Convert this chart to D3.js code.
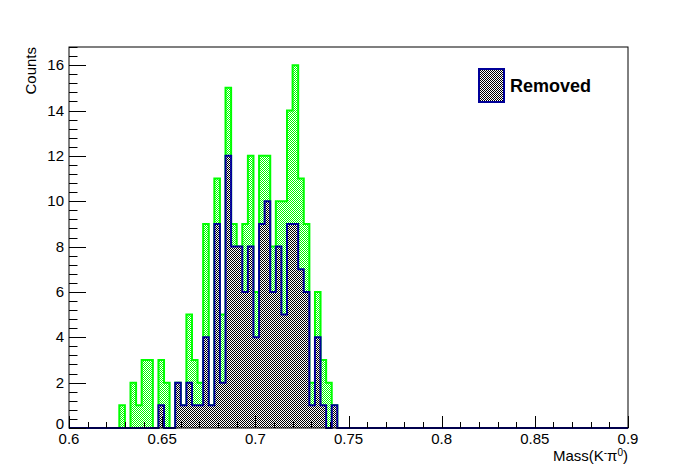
<!DOCTYPE html>
<html><head><meta charset="utf-8">
<script src="https://cdn.jsdelivr.net/npm/d3@7"></script>
<style>body{margin:0;background:#fff}svg{display:block}text{font-family:"Liberation Sans",Arial,sans-serif}</style>
</head><body>
<svg id="c" width="698" height="476"></svg>
<script>
const xMin = 0.6, xMax = 0.9, nBins = 100;
// bin contents (bin width 0.003), all entries
const allCounts = [
 0,0,0,0,0,0,0,0,0,1,
 0,2,1,3,3,0,3,2,0,2,
 1,5,3,2,9,1,11,5,15,9,
 8,9,12,6,12,12,8,10,10,14,
 16,11,9,2,6,3,2,1,0,0,
 0,0,0,0,0,0,0,0,0,0,
 0,0,0,0,0,0,0,0,0,0,
 0,0,0,0,0,0,0,0,0,0,
 0,0,0,0,0,0,0,0,0,0,
 0,0,0,0,0,0,0,0,0,0];
const removedCounts = [
 0,0,0,0,0,0,0,0,0,0,
 0,0,0,0,0,0,1,0,0,2,
 1,2,1,1,4,1,9,2,12,8,
 8,6,8,4,9,10,6,8,5,9,
 9,7,6,1,4,1,0,1,0,0,
 0,0,0,0,0,0,0,0,0,0,
 0,0,0,0,0,0,0,0,0,0,
 0,0,0,0,0,0,0,0,0,0,
 0,0,0,0,0,0,0,0,0,0,
 0,0,0,0,0,0,0,0,0,0];
const xTickLabels = ["0.6","0.65","0.7","0.75","0.8","0.85","0.9"];
const yTickLabels = ["0","2","4","6","8","10","12","14","16"];
const yMax = 16.8;
const legendLabel = "Removed";

const svg = d3.select("#c");
const L = 69, R = 628, T = 47, B = 428;
const x = d3.scaleLinear().domain([xMin, xMax]).range([L, R]);
const y = d3.scaleLinear().domain([0, yMax]).range([B, T]);
const bw = (xMax - xMin) / nBins;

// checker fills drawn pixel-exact with a canvas-generated image tile
function checkerURL(col) {
  const c = document.createElement("canvas"); c.width = 2; c.height = 2;
  const ctx = c.getContext("2d");
  ctx.fillStyle = "#fff"; ctx.fillRect(0, 0, 2, 2);
  ctx.fillStyle = col; ctx.fillRect(0, 0, 1, 1); ctx.fillRect(1, 1, 1, 1);
  return c.toDataURL();
}
const defs = svg.append("defs");
function checker(id, col) {
  const p = defs.append("pattern").attr("id", id).attr("patternUnits", "userSpaceOnUse")
    .attr("x", 0).attr("y", 0).attr("width", 2).attr("height", 2);
  p.append("image").attr("href", checkerURL(col)).attr("width", 2).attr("height", 2)
    .style("image-rendering", "pixelated");
}
checker("pg", "#00ff00");
checker("pk", "#000000");

function drawHist(counts, fillId, lineCol) {
  const g = svg.append("g");
  g.selectAll("rect").data(counts.map((v, i) => ({v, i})).filter(d => d.v > 0)).join("rect")
    .attr("x", d => Math.round(x(xMin + d.i * bw)))
    .attr("width", d => Math.round(x(xMin + (d.i + 1) * bw)) - Math.round(x(xMin + d.i * bw)))
    .attr("y", d => Math.round(y(d.v))).attr("height", d => Math.round(y(0)) - Math.round(y(d.v)))
    .attr("shape-rendering", "crispEdges")
    .attr("fill", `url(#${fillId})`);
  const pts = [[x(xMin), y(0)]];
  counts.forEach((v, i) => { pts.push([x(xMin + i * bw), y(v)]); pts.push([x(xMin + (i + 1) * bw), y(v)]); });
  pts.push([x(xMax), y(0)]);
  g.append("path").attr("d", d3.line()(pts)).attr("fill", "none").attr("stroke", lineCol).attr("stroke-width", 2);
}
drawHist(allCounts, "pg", "#00ff00");
drawHist(removedCounts, "pk", "#000099");

// frame
svg.append("rect").attr("x", L).attr("y", T).attr("width", R - L).attr("height", B - T)
  .attr("fill", "none").attr("stroke", "#000").attr("stroke-width", 1);

// x axis ticks
const ax = svg.append("g").attr("stroke", "#000").attr("stroke-width", 1);
const xMinor = d3.range(0, 31).map(i => xMin + i * 0.01);
xMinor.forEach((v, i) => {
  const len = (i % 5 === 0) ? 12 : 6;
  ax.append("line").attr("x1", Math.round(x(v)) + 0.5).attr("x2", Math.round(x(v)) + 0.5)
    .attr("y1", B).attr("y2", B - len);
});
xTickLabels.forEach(t => {
  svg.append("text").attr("x", x(+t)).attr("y", 444).attr("text-anchor", "middle")
    .attr("font-size", 15).text(t);
});
// y axis ticks
const yMinor = d3.range(0, 43).map(i => i * 0.4).filter(v => v <= yMax + 1e-9);
yMinor.forEach((v, i) => {
  const len = (i % 5 === 0) ? 17 : 8.5;
  ax.append("line").attr("x1", L).attr("x2", L + len)
    .attr("y1", Math.round(y(v)) + 0.5).attr("y2", Math.round(y(v)) + 0.5);
});
yTickLabels.forEach(t => {
  svg.append("text").attr("x", 64).attr("y", y(+t) + (+t === 0 ? 1 : 5)).attr("text-anchor", "end")
    .attr("font-size", 15).text(t);
});

// axis titles
svg.append("text").attr("transform", `translate(36,${T}) rotate(-90)`).attr("text-anchor", "end")
  .attr("font-size", 15).text("Counts");
const xt = svg.append("text").attr("x", R).attr("y", 461).attr("text-anchor", "end").attr("font-size", 15);
xt.append("tspan").text("Mass(K");
xt.append("tspan").attr("font-size", 10).attr("dy", -5).text("-");
xt.append("tspan").attr("dy", 5).text("\u03c0");
xt.append("tspan").attr("font-size", 10).attr("dy", -5).text("0");
xt.append("tspan").attr("dy", 5).text(")");

// legend
svg.append("rect").attr("x", 479).attr("y", 69).attr("width", 25).attr("height", 33)
  .attr("shape-rendering", "crispEdges")
  .attr("fill", "url(#pk)").attr("stroke", "#000099").attr("stroke-width", 1.5);
svg.append("text").attr("x", 510).attr("y", 92).attr("font-size", 18).attr("font-weight", "bold").text(legendLabel);
</script>
</body></html>
